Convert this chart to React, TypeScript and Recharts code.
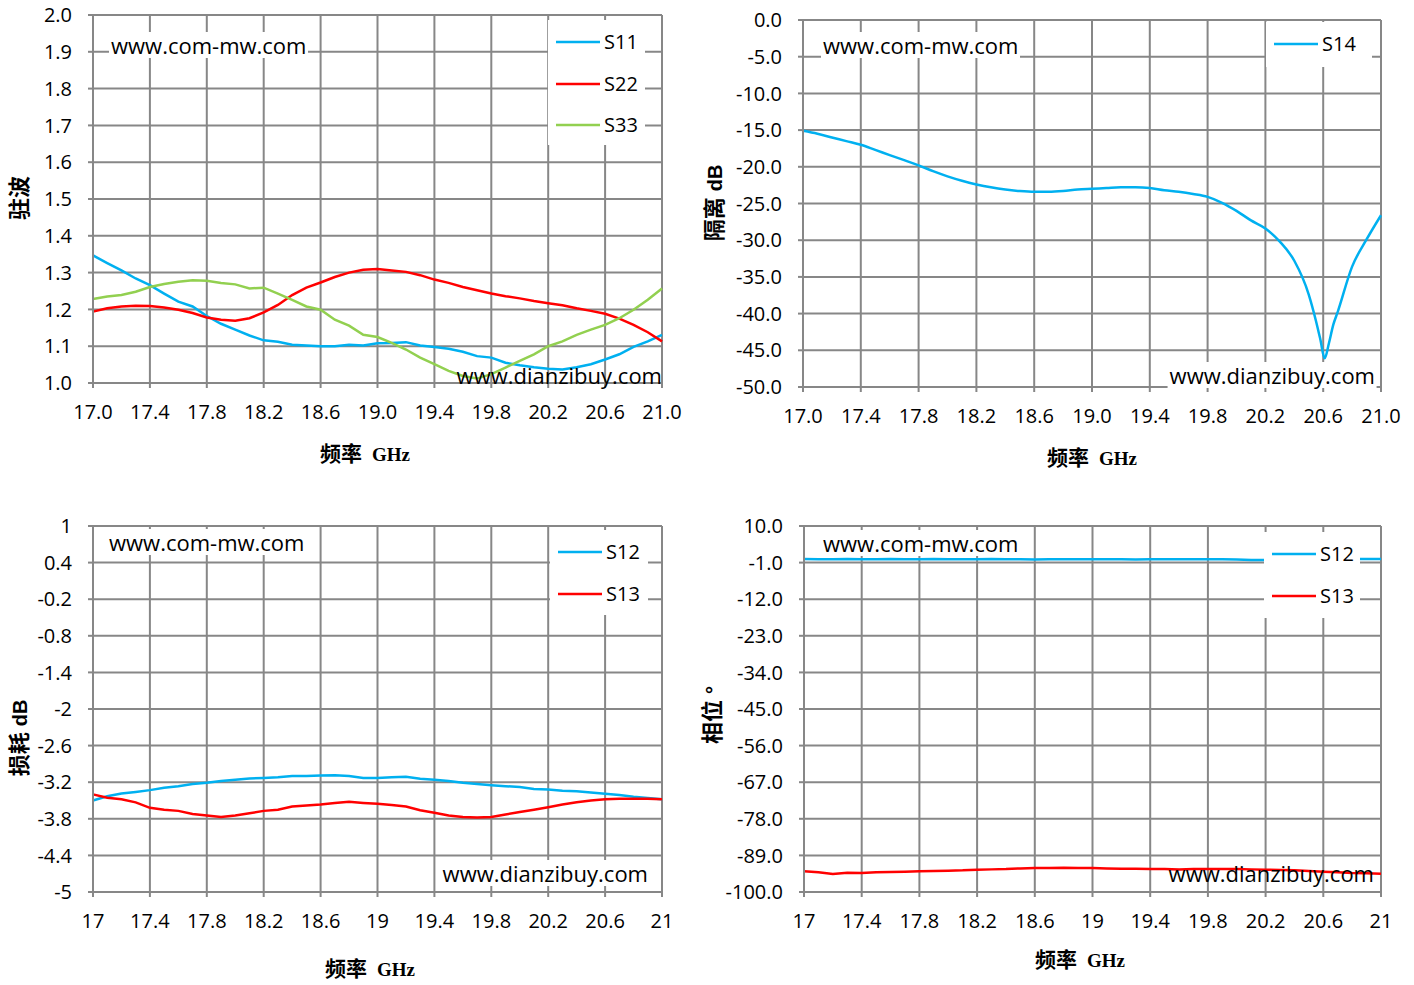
import { LineChart, Line, XAxis, YAxis, CartesianGrid, Legend } from "recharts";

// frequency points, GHz
const FREQ = [
  17.0, 17.1, 17.2, 17.3, 17.4, 17.5, 17.6, 17.7, 17.8, 17.9, 18.0, 18.1, 18.2, 18.3,
  18.4, 18.5, 18.6, 18.7, 18.8, 18.9, 19.0, 19.1, 19.2, 19.3, 19.4, 19.5, 19.6, 19.7,
  19.8, 19.9, 20.0, 20.1, 20.2, 20.3, 20.4, 20.5, 20.6, 20.7, 20.8, 20.9, 21.0,
];

// VSWR
const S11 = [
  1.347, 1.326, 1.306, 1.284, 1.266, 1.243, 1.221, 1.208, 1.182, 1.161, 1.145, 1.129, 1.116, 1.112,
  1.104, 1.102, 1.1, 1.1, 1.104, 1.102, 1.108, 1.109, 1.111, 1.102, 1.098, 1.093, 1.085, 1.073,
  1.069, 1.055, 1.048, 1.043, 1.039, 1.037, 1.043, 1.051, 1.064, 1.078, 1.098, 1.113, 1.131,
];
const S22 = [
  1.194, 1.203, 1.208, 1.21, 1.209, 1.205, 1.199, 1.19, 1.178, 1.172, 1.169, 1.176, 1.192, 1.212,
  1.239, 1.259, 1.273, 1.288, 1.3, 1.308, 1.31, 1.306, 1.302, 1.293, 1.281, 1.272, 1.261, 1.252,
  1.243, 1.236, 1.23, 1.223, 1.217, 1.211, 1.203, 1.196, 1.188, 1.175, 1.158, 1.138, 1.113,
];
const S33 = [
  1.228, 1.235, 1.239, 1.248, 1.261, 1.269, 1.275, 1.279, 1.278, 1.272, 1.268, 1.257, 1.259, 1.243,
  1.226, 1.208, 1.199, 1.172, 1.156, 1.131, 1.125, 1.109, 1.091, 1.069, 1.051, 1.033, 1.019, 1.012,
  1.024, 1.042, 1.06, 1.078, 1.1, 1.113, 1.131, 1.145, 1.158, 1.176, 1.199, 1.226, 1.257,
];

// isolation, extra points around the notch
const FREQ_ISO = [
  17.0, 17.1, 17.2, 17.3, 17.4, 17.5, 17.6, 17.7, 17.8, 17.9, 18.0, 18.1, 18.2, 18.3,
  18.4, 18.5, 18.6, 18.7, 18.8, 18.9, 19.0, 19.1, 19.2, 19.3, 19.4, 19.5, 19.6, 19.7,
  19.8, 19.9, 20.0, 20.1, 20.2, 20.3, 20.4, 20.5, 20.55, 20.58, 20.61, 20.64, 20.67, 20.7,
  20.8, 20.9, 21.0,
];
const S14 = [
  -15.1, -15.5, -16.0, -16.5, -17.0, -17.7, -18.4, -19.1, -19.8, -20.6, -21.3, -21.9, -22.4, -22.8,
  -23.1, -23.3, -23.4, -23.4, -23.3, -23.1, -23.0, -22.9, -22.8, -22.8, -22.9, -23.2, -23.4, -23.7,
  -24.1, -24.9, -26.0, -27.3, -28.4, -30.2, -32.8, -37.4, -41.0, -43.5, -46.1, -44.0, -41.5, -39.8,
  -33.6, -29.9, -26.6,
];

// insertion loss, dB
const LOSS_S12 = [
  -3.5, -3.43, -3.385, -3.36, -3.33, -3.29, -3.265, -3.23, -3.21, -3.18, -3.16, -3.14, -3.13, -3.12,
  -3.1, -3.1, -3.09, -3.085, -3.1, -3.13, -3.13, -3.12, -3.11, -3.145, -3.16, -3.18, -3.21, -3.23,
  -3.25, -3.265, -3.28, -3.31, -3.32, -3.34, -3.35, -3.37, -3.39, -3.41, -3.44, -3.46, -3.48,
];
const LOSS_S13 = [
  -3.4, -3.455, -3.48, -3.53, -3.62, -3.65, -3.67, -3.72, -3.745, -3.77, -3.745, -3.71, -3.67, -3.65,
  -3.6, -3.58, -3.565, -3.54, -3.52, -3.54, -3.555, -3.575, -3.6, -3.66, -3.7, -3.745, -3.77, -3.78,
  -3.77, -3.73, -3.69, -3.65, -3.61, -3.565, -3.53, -3.5, -3.48, -3.47, -3.47, -3.47, -3.48,
];

// phase, degrees
const PHASE_S12 = [
  0.1, 0.0, 0.0, 0.1, 0.0, 0.0, 0.1, 0.0, 0.0, 0.1, 0.0, 0.0, 0.0, 0.1,
  0.0, 0.0, -0.1, 0.0, 0.0, 0.0, 0.0, 0.0, 0.0, -0.1, 0.0, 0.0, 0.0, 0.0,
  0.0, 0.0, -0.1, -0.2, -0.2, -0.2, -0.1, 0.0, 0.0, 0.1, 0.1, 0.1, 0.1,
];
const PHASE_S13 = [
  -93.8, -94.1, -94.6, -94.2, -94.3, -94.1, -94.0, -93.9, -93.8, -93.7, -93.6, -93.5, -93.3, -93.2,
  -93.1, -92.9, -92.8, -92.8, -92.7, -92.8, -92.8, -92.9, -93.0, -93.0, -93.1, -93.1, -93.2, -93.1,
  -93.1, -93.1, -93.1, -93.2, -93.3, -93.4, -93.5, -93.7, -93.9, -94.1, -94.3, -94.4, -94.5,
];

const X_TICKS = [17, 17.4, 17.8, 18.2, 18.6, 19, 19.4, 19.8, 20.2, 20.6, 21];
const VSWR_TICKS = [1.0, 1.1, 1.2, 1.3, 1.4, 1.5, 1.6, 1.7, 1.8, 1.9, 2.0];
const ISO_TICKS = [0, -5, -10, -15, -20, -25, -30, -35, -40, -45, -50];
const LOSS_TICKS = [1, 0.4, -0.2, -0.8, -1.4, -2, -2.6, -3.2, -3.8, -4.4, -5];
const PHASE_TICKS = [10, -1, -12, -23, -34, -45, -56, -67, -78, -89, -100];

const BLUE = "#00b0f0";
const RED = "#ff0000";
const GREEN = "#92d050";
const GRID = "#878787";
const SANS = "'Open Sans', sans-serif";

const vswrData = FREQ.map((f, i) => ({ f, S11: S11[i], S22: S22[i], S33: S33[i] }));
const isoData = FREQ_ISO.map((f, i) => ({ f, S14: S14[i] }));
const lossData = FREQ.map((f, i) => ({ f, S12: LOSS_S12[i], S13: LOSS_S13[i] }));
const phaseData = FREQ.map((f, i) => ({ f, S12: PHASE_S12[i], S13: PHASE_S13[i] }));

const fix1 = (v: number) => v.toFixed(1);
const plain = (v: number) => String(v);

const tickStyle = { fontFamily: SANS, fontSize: 20, fill: "#000" };
const axisStroke = { stroke: GRID, strokeWidth: 2 };

type Box = { left: number; top: number; width: number; height: number };

function legendContent(box: Box) {
  return (props: any) => (
    <div style={{ position: "relative", width: box.width, height: box.height, background: "#fff" }}>
      {(props.payload || []).map((entry: any, i: number) => (
        <div
          key={entry.value}
          style={{ position: "absolute", left: 8, top: 22 + i * 41.5, transform: "translateY(-50%)", display: "flex", alignItems: "center" }}
        >
          <svg width={44} height={4} style={{ display: "block" }}>
            <line x1={0} y1={2} x2={44} y2={2} stroke={entry.color} strokeWidth={2.5} />
          </svg>
          <span style={{ marginLeft: 4, fontFamily: SANS, fontSize: 20, lineHeight: "22px", color: "#000" }}>{entry.value}</span>
        </div>
      ))}
    </div>
  );
}

function Panel(props: {
  x: number;
  y: number;
  w: number;
  h: number;
  margin: { top: number; right: number; bottom: number; left: number };
  data: any[];
  lines: { key: string; color: string }[];
  yDomain: [number, number];
  yTicks: number[];
  yFmt: (v: number) => string;
  xFmt: (v: number) => string;
  legend: Box;
  curve: "linear" | "monotone";
}) {
  const { x, y, w, h, margin, data, lines, yDomain, yTicks, yFmt, xFmt, legend, curve } = props;
  return (
    <div style={{ position: "absolute", left: x, top: y }}>
      <LineChart width={w} height={h} data={data} margin={margin}>
        <CartesianGrid stroke={GRID} strokeWidth={2} />
        <XAxis
          dataKey="f"
          type="number"
          domain={[17, 21]}
          ticks={X_TICKS}
          interval={0}
          tickFormatter={xFmt}
          height={30}
          axisLine={axisStroke}
          tickLine={axisStroke}
          tickSize={5}
          tickMargin={17}
          tick={tickStyle}
        />
        <YAxis
          type="number"
          domain={yDomain}
          ticks={yTicks}
          interval={0}
          tickFormatter={yFmt}
          width={60}
          axisLine={axisStroke}
          tickLine={axisStroke}
          tickSize={5}
          tickMargin={16}
          tick={tickStyle}
        />
        <Legend
          layout="horizontal"
          verticalAlign="middle"
          align="center"
          wrapperStyle={{ left: legend.left, top: legend.top, width: legend.width, height: legend.height }}
          content={legendContent(legend)}
        />
        {lines.map((l) => (
          <Line
            key={l.key}
            dataKey={l.key}
            name={l.key}
            type={curve}
            stroke={l.color}
            strokeWidth={2.5}
            dot={false}
            isAnimationActive={false}
          />
        ))}
      </LineChart>
    </div>
  );
}

function XTitle({ x, y }: { x: number; y: number }) {
  return (
    <div style={{ position: "absolute", left: x, top: y, transform: "translate(-50%, -50%)", whiteSpace: "nowrap", color: "#000" }}>
      <span style={{ fontFamily: "'Noto Sans CJK SC'", fontWeight: 700, fontSize: 21 }}>频率</span>
      <span style={{ fontFamily: "'Liberation Serif', serif", fontWeight: 700, fontSize: 19, marginLeft: 10 }}>GHz</span>
    </div>
  );
}

function YTitle({ x, y, text, unit }: { x: number; y: number; text: string; unit?: string }) {
  return (
    <div
      style={{
        position: "absolute",
        left: x,
        top: y,
        transform: "translate(-50%, -50%) rotate(-90deg)",
        whiteSpace: "nowrap",
        lineHeight: "24px",
        color: "#000",
      }}
    >
      <span style={{ fontFamily: "'Noto Sans CJK SC'", fontWeight: 700, fontSize: 22 }}>{text}</span>
      {unit && (
        <span style={{ fontFamily: "'Liberation Sans', sans-serif", fontWeight: 700, fontSize: 20, marginLeft: 6 }}>{unit}</span>
      )}
    </div>
  );
}

function Mark({ x, y, text, right, solid }: { x: number; y: number; text: string; right?: boolean; solid?: boolean }) {
  return (
    <div
      style={{
        position: "absolute",
        left: x,
        top: y,
        transform: right ? "translate(-100%, -50%)" : "translateY(-50%)",
        fontFamily: SANS,
        fontSize: 22,
        lineHeight: "26px",
        color: "#000",
        whiteSpace: "nowrap",
        background: solid ? "#fff" : "transparent",
        padding: "0 2px",
      }}
    >
      {text}
    </div>
  );
}

export default function App() {
  return (
    <div style={{ position: "absolute", left: 0, top: 0, width: 1414, height: 985, background: "#fff", overflow: "hidden" }}>
      <Panel
        x={0}
        y={0}
        w={707}
        h={490}
        margin={{ top: 15, right: 45, bottom: 77, left: 33 }}
        data={vswrData}
        lines={[
          { key: "S11", color: BLUE },
          { key: "S22", color: RED },
          { key: "S33", color: GREEN },
        ]}
        yDomain={[1, 2]}
        yTicks={VSWR_TICKS}
        yFmt={fix1}
        xFmt={fix1}
        legend={{ left: 548, top: 20, width: 97, height: 125 }}
        curve="linear"
      />
      <Panel
        x={707}
        y={0}
        w={707}
        h={490}
        margin={{ top: 20, right: 33, bottom: 73, left: 36 }}
        data={isoData}
        lines={[{ key: "S14", color: BLUE }]}
        yDomain={[-50, 0]}
        yTicks={ISO_TICKS}
        yFmt={fix1}
        xFmt={fix1}
        legend={{ left: 559, top: 22, width: 106, height: 45 }}
        curve="monotone"
      />
      <Panel
        x={0}
        y={490}
        w={707}
        h={495}
        margin={{ top: 36, right: 45, bottom: 63, left: 33 }}
        data={lossData}
        lines={[
          { key: "S12", color: BLUE },
          { key: "S13", color: RED },
        ]}
        yDomain={[-5, 1]}
        yTicks={LOSS_TICKS}
        yFmt={plain}
        xFmt={plain}
        legend={{ left: 550, top: 40, width: 98, height: 85 }}
        curve="linear"
      />
      <Panel
        x={707}
        y={490}
        w={707}
        h={495}
        margin={{ top: 36, right: 33, bottom: 63, left: 37 }}
        data={phaseData}
        lines={[
          { key: "S12", color: BLUE },
          { key: "S13", color: RED },
        ]}
        yDomain={[-100, 10]}
        yTicks={PHASE_TICKS}
        yFmt={fix1}
        xFmt={plain}
        legend={{ left: 557, top: 42, width: 96, height: 86 }}
        curve="linear"
      />

      <Mark x={109} y={45} text="www.com-mw.com" solid />
      <Mark x={664} y={375} text="www.dianzibuy.com" right />
      <Mark x={821} y={45} text="www.com-mw.com" solid />
      <Mark x={1377} y={375} text="www.dianzibuy.com" right solid />
      <Mark x={107} y={542} text="www.com-mw.com" solid />
      <Mark x={650} y={873} text="www.dianzibuy.com" right solid />
      <Mark x={821} y={543} text="www.com-mw.com" solid />
      <Mark x={1376} y={873} text="www.dianzibuy.com" right />

      <XTitle x={365} y={452} />
      <XTitle x={1092} y={456} />
      <XTitle x={370} y={967} />
      <XTitle x={1080} y={958} />

      <YTitle x={19} y={198} text="驻波" />
      <YTitle x={714} y={203} text="隔离" unit="dB" />
      <YTitle x={19} y={738} text="损耗" unit="dB" />
      <YTitle x={712} y={715} text="相位" unit="°" />
    </div>
  );
}
